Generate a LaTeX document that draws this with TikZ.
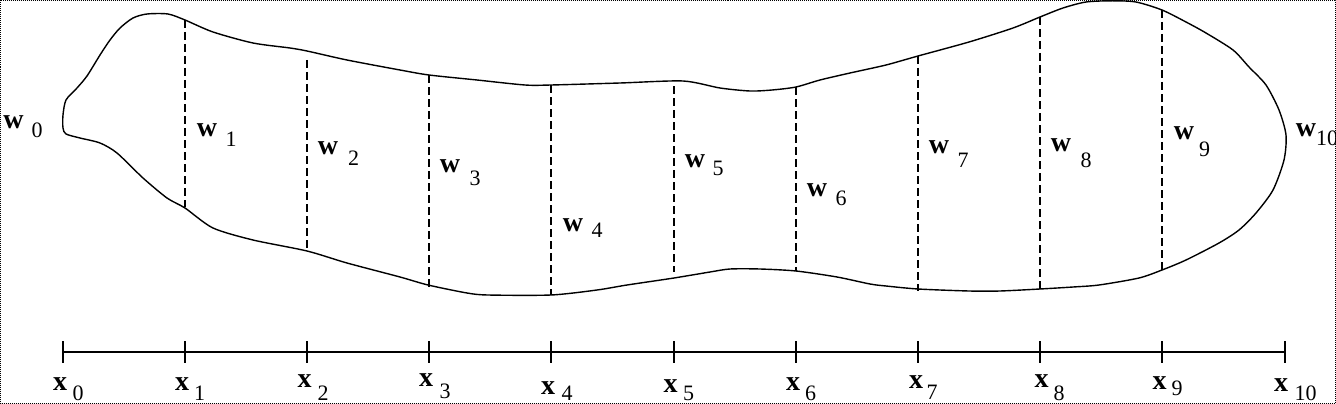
\documentclass[tikz,border=0pt]{standalone}
\usepackage{fontspec}
\setmainfont{Liberation Serif}
\begin{document}
\begin{tikzpicture}[x=1pt,y=-1pt,
  outline/.style={line width=1.4pt, line join=round},
  divider/.style={line width=2pt, dash pattern=on 8pt off 4pt},
  axisline/.style={line width=2pt},
  letter/.style={inner sep=0pt, font=\fontsize{28}{28}\selectfont\bfseries},
  subs/.style={inner sep=0pt, font=\fontsize{22}{22}\selectfont},
  frame/.style={line width=1pt, dash pattern=on 1pt off 1pt}]
\useasboundingbox (0,0) rectangle (1336,404);
\draw[frame] (0.5,0.5) rectangle (1335.5,403.5);
% outline
\draw[outline] plot[smooth cycle, tension=0.45] coordinates {
(63,115) (66,100) (77,88) (87,76) (100,55) (110,40) (120,28) (133,18) (147,14) (168,14) (185,20)
(213,32) (253,43) (290,48) (307,51) (347,60) (400,70) (429,75) (477,80) (525,85) (551,85)
(620,83) (683,81) (720,88) (750,91) (772,90) (796,87) (820,80) (850,73) (886,65) (918,56)
(969,42) (1013,28) (1040,17) (1063,8) (1086,2) (1112,0.8) (1136,2) (1162,10) (1186,22) (1206,33)
(1233,50) (1249,67) (1266,85) (1279,110) (1286,135) (1284,160) (1273,190) (1256,213) (1239,230)
(1219,243) (1186,260) (1162,270) (1139,278) (1099,285) (1073,287) (1040,289) (1000,291) (969,291)
(918,289) (886,286) (870,284) (837,277) (796,271) (760,269) (730,269) (710,272) (674,278) (627,285)
(597,290) (551,295) (488,295) (467,293) (428,285) (400,277) (347,263) (307,251) (253,240) (213,228)
(185,208) (167,198) (143,178) (117,153) (100,143) (80,138) (66,134) (63,128)};
% divider end points
\coordinate (t1) at (185,20);   \coordinate (b1) at (185,207);
\coordinate (t2) at (307,60);   \coordinate (b2) at (307,251);
\coordinate (t3) at (429,75);   \coordinate (b3) at (429,290);
\coordinate (t4) at (551,85);   \coordinate (b4) at (551,295);
\coordinate (t5) at (674,86);   \coordinate (b5) at (674,272);
\coordinate (t6) at (796,87);   \coordinate (b6) at (796,271);
\coordinate (t7) at (918,56);   \coordinate (b7) at (918,291);
\coordinate (t8) at (1040,17);  \coordinate (b8) at (1040,291);
\coordinate (t9) at (1162,10);  \coordinate (b9) at (1162,270);
\foreach \i in {1,...,9} { \draw[divider] (t\i) -- (b\i); }
% axis
\foreach \i/\xx in {0/63,1/185,2/307,3/429,4/551,5/674,6/796,7/918,8/1040,9/1162,10/1285} {
  \coordinate (a\i) at (\xx,352);
  \coordinate (u\i) at (\xx,341);
  \coordinate (d\i) at (\xx,363);
  \draw[axisline] (u\i) -- (d\i);
}
\draw[axisline] (a0) -- (a10);
% x labels
\node[letter] (xl0) at (60,384.5) {x};   \node[subs] (xs0) at (78,393.5) {0};
\node[letter] (xl1) at (182,384) {x};    \node[subs] (xs1) at (199.5,393.5) {1};
\node[letter] (xl2) at (304.5,381.5) {x};\node[subs] (xs2) at (323,393) {2};
\node[letter] (xl3) at (426,380) {x};    \node[subs] (xs3) at (445,391.5) {3};
\node[letter] (xl4) at (548,388.5) {x};  \node[subs] (xs4) at (567,393.5) {4};
\node[letter] (xl5) at (670.5,386) {x};  \node[subs] (xs5) at (688.5,393) {5};
\node[letter] (xl6) at (793,384.5) {x};  \node[subs] (xs6) at (810.5,393) {6};
\node[letter] (xl7) at (916,382.5) {x};  \node[subs] (xs7) at (932,392.5) {7};
\node[letter] (xl8) at (1041.5,381.5) {x};\node[subs] (xs8) at (1059,393) {8};
\node[letter] (xl9) at (1159.5,383.5) {x};\node[subs] (xs9) at (1177,388.5) {9};
\node[letter] (xl10) at (1281,385) {x};  \node[subs] (xs10) at (1305.5,393) {10};
% w labels
\node[letter] (wl0) at (13.5,122.5) {w};  \node[subs] (ws0) at (37,130) {0};
\node[letter] (wl1) at (207,130) {w};     \node[subs] (ws1) at (231,139.5) {1};
\node[letter] (wl2) at (328,148.5) {w};   \node[subs] (ws2) at (353.5,158.5) {2};
\node[letter] (wl3) at (450,166) {w};     \node[subs] (ws3) at (475,178.5) {3};
\node[letter] (wl4) at (573,225) {w};     \node[subs] (ws4) at (597,230.5) {4};
\node[letter] (wl5) at (695,161.5) {w};   \node[subs] (ws5) at (718,168.5) {5};
\node[letter] (wl6) at (817,190) {w};     \node[subs] (ws6) at (841,198.5) {6};
\node[letter] (wl7) at (939,147.5) {w};   \node[subs] (ws7) at (963,160) {7};
\node[letter] (wl8) at (1061,145.5) {w};  \node[subs] (ws8) at (1086,160) {8};
\node[letter] (wl9) at (1184,133.5) {w};  \node[subs] (ws9) at (1204.5,149.5) {9};
\node[letter] (wl10) at (1306,130) {w};   \node[subs] (ws10) at (1327,138.5) {10};
\end{tikzpicture}
\end{document}
